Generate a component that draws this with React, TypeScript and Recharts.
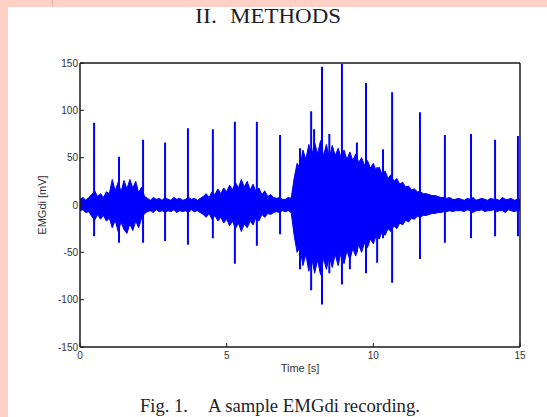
import { ComposedChart, Area, Line, XAxis, YAxis, Label } from "recharts";

// EMGdi envelope, one value every 0.1 s from 0 to 15 s (mV)
const envTop = [
  6, 8, 5, 8, 11, 15, 9, 12, 8, 14,
  12, 27, 15, 24, 14, 26, 17, 27, 18, 25,
  13, 19, 9, 7, 5, 8, 6, 7, 5, 8,
  6, 5, 8, 6, 7, 5, 6, 8, 6, 7,
  5, 7, 9, 12, 8, 14, 11, 17, 12, 18,
  14, 21, 16, 24, 18, 27, 19, 25, 16, 22,
  14, 18, 11, 15, 9, 11, 8, 7, 8, 6,
  6, 8, 7, 28, 44, 40, 58, 48, 64, 52,
  66, 54, 68, 52, 64, 50, 63, 52, 60, 50,
  58, 48, 56, 47, 54, 45, 50, 42, 47, 39,
  44, 36, 40, 32, 36, 28, 32, 25, 28, 22,
  24, 19, 20, 16, 17, 14, 14, 12, 12, 11,
  10, 10, 9, 8, 8, 7, 8, 6, 6, 7,
  6, 5, 7, 6, 8, 5, 6, 7, 6, 5,
  7, 6, 6, 5, 8, 6, 6, 7, 5, 6,
  6,
];
const envBottom = [
  -6, -5, -8, -7, -12, -16, -10, -15, -11, -17,
  -14, -24, -16, -28, -18, -26, -30, -20, -27, -17,
  -24, -14, -9, -7, -6, -8, -5, -7, -6, -8,
  -6, -7, -5, -8, -6, -7, -6, -8, -5, -7,
  -6, -8, -10, -13, -9, -15, -11, -17, -13, -19,
  -15, -22, -17, -25, -19, -28, -20, -24, -17, -21,
  -13, -17, -10, -13, -9, -10, -8, -7, -8, -6,
  -7, -6, -8, -32, -50, -45, -64, -52, -70, -56,
  -72, -58, -74, -56, -68, -54, -66, -52, -64, -50,
  -62, -48, -58, -46, -54, -42, -50, -40, -45, -36,
  -41, -32, -36, -28, -32, -25, -28, -22, -25, -19,
  -21, -16, -18, -14, -15, -12, -13, -11, -11, -10,
  -9, -9, -8, -8, -7, -7, -6, -7, -6, -6,
  -6, -7, -5, -6, -8, -6, -6, -5, -7, -6,
  -6, -5, -7, -6, -6, -8, -5, -6, -7, -6,
  -6,
];

// sharp spikes (ECG artefacts and burst peaks)
const spikeTime = [0.48, 1.33, 2.15, 2.9, 3.68, 4.53, 5.28, 6.03, 6.82, 7.5, 7.88, 7.98, 8.25, 8.5, 8.93, 9.2, 9.44, 9.75, 10.13, 10.33, 10.64, 11.59, 12.44, 13.33, 14.15, 14.93];
const spikeHigh = [87, 51, 69, 66, 81, 80, 88, 88, 74, 60, 99, 80, 146, 75, 149, 50, 66, 129, 40, 59, 119, 98, 74, 75, 69, 73];
const spikeLow = [-33, -40, -40, -38, -42, -35, -62, -43, -31, -68, -90, -60, -105, -72, -84, -68, -50, -72, -61, -35, -82, -57, -40, -35, -33, -33];

const xTicks = [0, 5, 10, 15];
const yTicks = [-150, -100, -50, 0, 50, 100, 150];

const envData = envTop.map((hi, i) => ({ t: i / 10, env: [envBottom[i], hi] }));
const spikeData = spikeTime.flatMap((t, i) => [
  { t, v: spikeLow[i] },
  { t, v: spikeHigh[i] },
  { t, v: null },
]);

const BLUE = "#0000ff";
const AXIS = "#1a1a1a";
const tickStyle = { fontSize: 10, fill: "#333", fontFamily: "Liberation Sans, Arial, sans-serif" };
const blank = () => "";

export default function App() {
  return (
    <div style={{ position: "absolute", left: 0, top: 0, width: 547, height: 417, background: "#fff", overflow: "hidden" }}>
      <div style={{ position: "absolute", left: 0, top: 0, width: 547, height: 7, background: "#ffd0c6" }} />
      <div style={{ position: "absolute", left: 0, top: 0, width: 8, height: 417, background: "#ffd0c6" }} />
      <div style={{ position: "absolute", left: 52, top: 0, width: 1, height: 7, background: "#d8b8b0" }} />

      <svg width={547} height={417} style={{ position: "absolute", left: 0, top: 0 }}>
        <g fontFamily="Liberation Serif, Times New Roman, serif" fill="#1e1e28">
          <text x={195} y={23} fontSize={22} textLength={22} lengthAdjust="spacingAndGlyphs">II.</text>
          <text x={230} y={23} fontSize={22} textLength={111} lengthAdjust="spacingAndGlyphs">METHODS</text>
          <text x={140} y={412} fontSize={18} textLength={48} lengthAdjust="spacingAndGlyphs">Fig. 1.</text>
          <text x={208} y={412} fontSize={18} textLength={212} lengthAdjust="spacingAndGlyphs">A sample EMGdi recording.</text>
        </g>
      </svg>

      <div style={{ position: "absolute", left: 0, top: 0 }}>
        <ComposedChart width={547} height={417} margin={{ top: 58, right: 22, bottom: 40, left: 40 }}>
          <XAxis
            dataKey="t"
            type="number"
            domain={[0, 15]}
            ticks={xTicks}
            height={30}
            tickSize={-4}
            tickMargin={9}
            tick={tickStyle}
            axisLine={{ stroke: AXIS, strokeWidth: 1.5 }}
            tickLine={{ stroke: AXIS }}
          >
            <Label value="Time [s]" position="center" dy={6} style={{ ...tickStyle, fontSize: 11 }} />
          </XAxis>
          <XAxis
            xAxisId="top"
            orientation="top"
            dataKey="t"
            type="number"
            domain={[0, 15]}
            ticks={xTicks}
            height={5}
            tickSize={-4}
            tickFormatter={blank}
            axisLine={{ stroke: AXIS, strokeWidth: 1.5 }}
            tickLine={{ stroke: AXIS }}
          />
          <YAxis
            type="number"
            domain={[-150, 150]}
            ticks={yTicks}
            width={40}
            tickSize={-4}
            tickMargin={6}
            tick={tickStyle}
            axisLine={{ stroke: AXIS, strokeWidth: 1.5 }}
            tickLine={{ stroke: AXIS }}
          >
            <Label value="EMGdi [mV]" angle={-90} position="center" dx={-18} style={{ ...tickStyle, fontSize: 11 }} />
          </YAxis>
          <YAxis
            yAxisId="right"
            orientation="right"
            type="number"
            domain={[-150, 150]}
            ticks={yTicks}
            width={5}
            tickSize={-4}
            tickFormatter={blank}
            axisLine={{ stroke: AXIS, strokeWidth: 1.5 }}
            tickLine={{ stroke: AXIS }}
          />
          <Area
            data={envData}
            dataKey="env"
            type="linear"
            stroke={BLUE}
            strokeWidth={1}
            fill={BLUE}
            fillOpacity={1}
            isAnimationActive={false}
          />
          <Line
            data={spikeData}
            dataKey="v"
            type="linear"
            stroke={BLUE}
            strokeWidth={2}
            dot={false}
            isAnimationActive={false}
          />
        </ComposedChart>
      </div>
    </div>
  );
}
